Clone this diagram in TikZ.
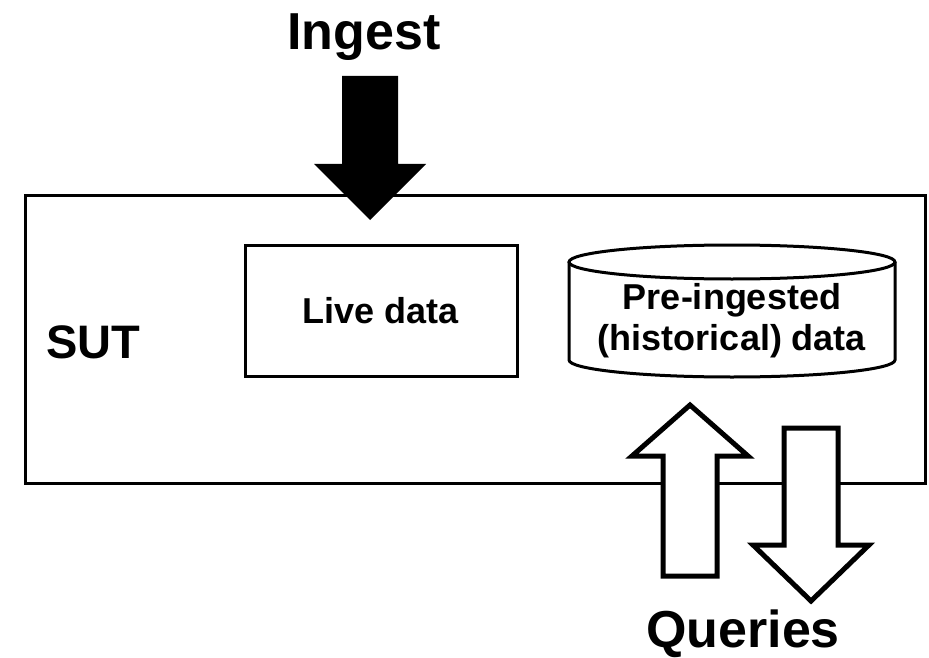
\documentclass[tikz,border=0pt]{standalone}
\usepackage{fontspec}
\setmainfont{Liberation Sans}
\usetikzlibrary{calc}

\begin{document}
\begin{tikzpicture}[x=1pt,y=-1pt]
% Pixel coordinates, y pointing down.

\tikzstyle{box}=[draw,line width=3pt,inner sep=0pt,outer sep=0pt]
\tikzstyle{bigtext}=[font=\bfseries\fontsize{52}{60}\selectfont,inner sep=0pt]
\tikzstyle{boxtext}=[font=\bfseries\fontsize{36}{41}\selectfont,align=center]
\tikzstyle{hollow}=[draw,fill=white,line width=5pt,line join=miter]

\useasboundingbox (0,0) rectangle (929,658);

% This draws the system under test.
\node[box,minimum width=900pt,minimum height=288pt,anchor=north west] (SUT) at (25,195) {};
\node[bigtext,font=\bfseries\fontsize{47}{56}\selectfont,anchor=base] (SUTlabel) at (93,358) {SUT};

% This draws the live data store.
\node[box,boxtext,minimum width=272pt,minimum height=131pt] (live) at (381,310.5) {Live data};

% This draws the historical data store.
\draw[line width=3pt,fill=white] (569,262) -- (569,360)
  arc[start angle=180,end angle=360,x radius=163pt,y radius=17pt] -- (895,262);
\draw[line width=3pt] (732,262) ellipse [x radius=163pt,y radius=17pt];
\node[boxtext] (hist) at (732,321) {Pre-ingested\\(historical) data};

% This draws the ingest arrow.
\node[bigtext,anchor=base] (ingest) at (364,50) {Ingest};
\fill (342,76) -- (398,76) -- (398,164) -- (426,164) -- (370,220)
  -- (314,164) -- (342,164) -- cycle;

% This draws the query arrows.
\draw[hollow] (690,405) -- (748,456) -- (717,456) -- (717,576)
  -- (663,576) -- (663,456) -- (632,456) -- cycle;
\draw[hollow] (784,428) -- (838,428) -- (838,545) -- (869,545)
  -- (811,601) -- (753,545) -- (784,545) -- cycle;
\node[bigtext,anchor=base] (queries) at (743,647) {Queries};

\end{tikzpicture}
\end{document}
